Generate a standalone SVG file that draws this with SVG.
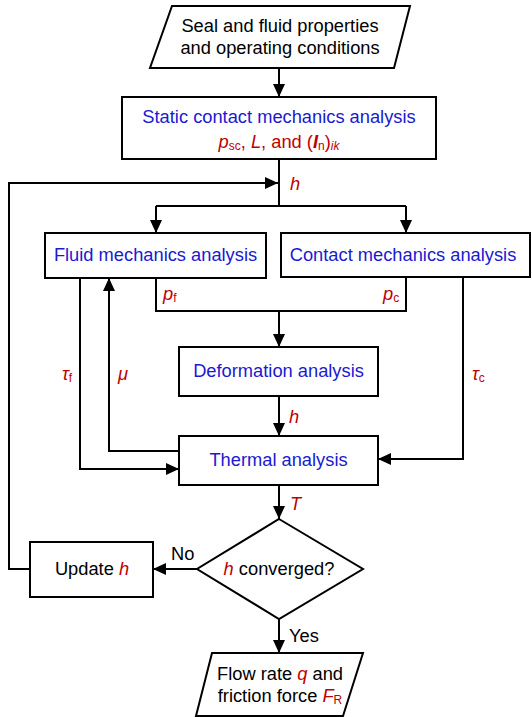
<svg xmlns="http://www.w3.org/2000/svg" width="532" height="717" viewBox="0 0 532 717">
<defs>
<marker id="ah" markerUnits="userSpaceOnUse" markerWidth="14" markerHeight="12" refX="13" refY="6" orient="auto">
<path d="M0,0 L13,6 L0,12 z" fill="#000"/>
</marker>
<style>
.box{fill:#fff;stroke:#000;stroke-width:2}
.ln{fill:none;stroke:#000;stroke-width:2}
.ar{fill:none;stroke:#000;stroke-width:2;marker-end:url(#ah)}
text{font-family:"Liberation Sans",Arial,sans-serif;font-size:18.3px}
.c{text-anchor:middle}
.k{fill:#000}
.b{fill:#1a1ad0}
.r{fill:#c00000}
.i{font-style:italic}
.s{font-size:12px}
</style>
</defs>
<rect width="532" height="717" fill="#fff"/>

<g id="connectors">
<line class="ar" x1="279" y1="68" x2="279" y2="97"/>
<line class="ln" x1="279" y1="159" x2="279" y2="206"/>
<line class="ln" x1="156" y1="206" x2="406" y2="206"/>
<line class="ar" x1="156" y1="206" x2="156" y2="233"/>
<line class="ar" x1="406" y1="206" x2="406" y2="233"/>
<polyline class="ar" points="30,569 9,569 9,183 278,183"/>
<polyline class="ln" points="156,278 156,311 406,311 406,277"/>
<line class="ar" x1="279" y1="311" x2="279" y2="347"/>
<line class="ar" x1="279" y1="396" x2="279" y2="436"/>
<polyline class="ar" points="80,278 80,469 179,469"/>
<polyline class="ar" points="179,451 109,451 109,278"/>
<polyline class="ar" points="463,277 463,459 378,459"/>
<line class="ar" x1="279" y1="485" x2="279" y2="519"/>
<line class="ar" x1="197" y1="569" x2="153" y2="569"/>
<line class="ar" x1="279" y1="619" x2="279" y2="653"/>
<text class="r i" x="290" y="190">h</text>
<text class="r" x="163" y="300"><tspan class="i">p</tspan><tspan class="s" dy="1.5">f</tspan></text>
<text class="r" x="383" y="300"><tspan class="i">p</tspan><tspan class="s" dy="1.5">c</tspan></text>
<text class="r" x="62" y="380"><tspan class="i">τ</tspan><tspan class="s" dy="1.5">f</tspan></text>
<text class="r i" x="118" y="380">μ</text>
<text class="r" x="472" y="380"><tspan class="i">τ</tspan><tspan class="s" dy="1.5">c</tspan></text>
<text class="r i" x="289" y="423">h</text>
<text class="r i" x="290" y="510">T</text>
<text class="k" x="171" y="560">No</text>
<text class="k" x="289" y="642">Yes</text>
</g>

<g id="input">
<polygon class="box" points="172,6 410,6 394,68 150,68"/>
<text class="k c" x="280" y="32">Seal and fluid properties</text>
<text class="k c" x="280" y="54">and operating conditions</text>
</g>

<g id="static">
<rect class="box" x="122" y="97" width="314" height="62"/>
<text class="b c" x="279" y="123">Static contact mechanics analysis</text>
<text class="r c" x="279" y="148"><tspan class="i">p</tspan><tspan class="s" dy="1.5">sc</tspan><tspan dy="-1.5">, </tspan><tspan class="i">L</tspan>, and (<tspan class="i" font-weight="bold">I</tspan><tspan class="s" dy="1.5">n</tspan><tspan dy="-1.5">)</tspan><tspan class="s i" dy="1.5">ik</tspan></text>
</g>

<g id="fluid">
<rect class="box" x="45" y="233" width="221" height="45"/>
<text class="b c" x="155.5" y="261">Fluid mechanics analysis</text>
</g>

<g id="contact">
<rect class="box" x="281" y="233" width="249" height="44"/>
<text class="b c" x="403" y="261">Contact mechanics analysis</text>
</g>

<g id="deformation">
<rect class="box" x="179" y="347" width="199" height="49"/>
<text class="b c" x="278.5" y="377">Deformation analysis</text>
</g>

<g id="thermal">
<rect class="box" x="179" y="436" width="199" height="49"/>
<text class="b c" x="278.5" y="466">Thermal analysis</text>
</g>

<g id="decision">
<polygon class="box" points="279,519 363,569 279,619 197,569"/>
<text class="k c" x="279" y="575"><tspan class="r i">h</tspan> converged?</text>
</g>

<g id="update">
<rect class="box" x="30" y="542" width="123" height="55"/>
<text class="k c" x="92" y="575">Update <tspan class="r i">h</tspan></text>
</g>

<g id="output">
<polygon class="box" points="212,653 363,653 343,716 196,716"/>
<text class="k c" x="280" y="680">Flow rate <tspan class="r i">q</tspan> and</text>
<text class="k c" x="280" y="702">friction force <tspan class="r i">F</tspan><tspan class="r s" dy="1.5">R</tspan></text>
</g>
</svg>
